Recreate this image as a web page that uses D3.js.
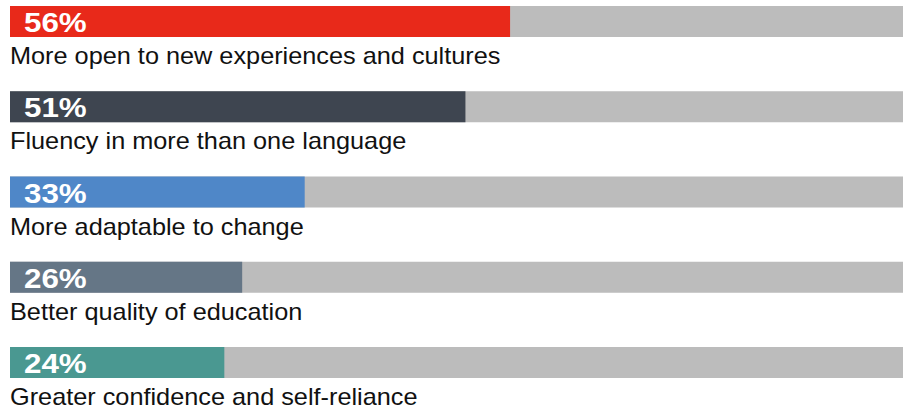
<!DOCTYPE html>
<html>
<head>
<meta charset="utf-8">
<script src="https://cdn.jsdelivr.net/npm/d3@7"></script>
<style>
  body { margin: 0; background: #fff; }
  text { font-family: "Liberation Sans", Arial, sans-serif; }
</style>
</head>
<body>
<div id="chart"></div>
<script>
var categories = [
    "More open to new experiences and cultures",
    "Fluency in more than one language",
    "More adaptable to change",
    "Better quality of education",
    "Greater confidence and self-reliance"
];
var values = [56, 51, 33, 26, 24];
var colors = ["#e8291a", "#3e4550", "#4f87c8", "#657686", "#4a9891"];

var width = 910,
    height = 412,
    margin = {left: 10, right: 7, top: 6},
    step = 85.25,
    barHeight = 31;

var svg = d3.select("#chart").append("svg")
    .attr("width", width)
    .attr("height", height);

var x = d3.scaleLinear()
    .domain([0, 100])
    .range([margin.left, width - margin.right]);

var y = d3.scaleBand()
    .domain(categories)
    .range([margin.top, margin.top + step * categories.length])
    .paddingInner(0)
    .align(0);

var data = categories.map(function(c, i) { return {cat: c, value: values[i], color: colors[i]}; });

var row = svg.selectAll("g.row")
    .data(data)
    .enter().append("g")
    .attr("class", "row")
    .attr("transform", function(d) { return "translate(0," + y(d.cat) + ")"; });

// grey track
row.append("rect")
    .attr("x", x(0))
    .attr("y", 0)
    .attr("width", x(100) - x(0))
    .attr("height", barHeight)
    .attr("fill", "#bcbcbc");

row.append("rect")
    .attr("x", x(0))
    .attr("y", 0)
    .attr("width", function(d) { return x(d.value) - x(0); })
    .attr("height", barHeight)
    .attr("fill", function(d) { return d.color; });

// the original face is wider than Liberation Sans, so stretch a bit
row.append("text")
    .attr("transform", "translate(" + (x(0) + 14) + ",26) scale(1.12,1)")
    .attr("fill", "#fff")
    .attr("font-weight", "bold")
    .attr("font-size", 28)
    .text(function(d) { return d.value + "%"; });

row.append("text")
    .attr("transform", "translate(" + x(0) + ",58) scale(1.1,1)")
    .attr("fill", "#111")
    .attr("font-size", 23)
    .text(function(d) { return d.cat; });
</script>
</body>
</html>
